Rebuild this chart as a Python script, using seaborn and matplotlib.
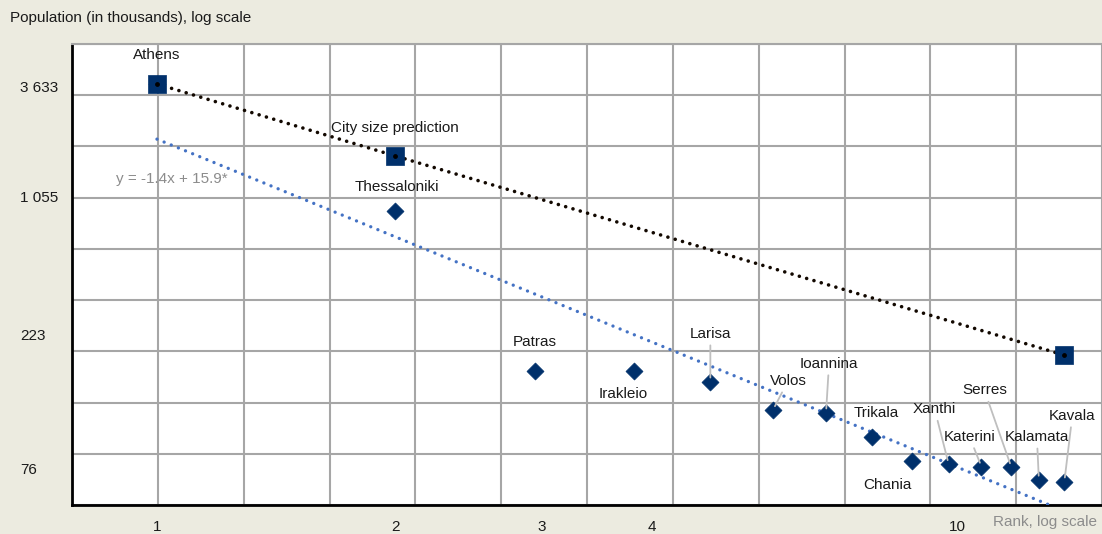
import numpy as np
import matplotlib
matplotlib.use('Agg')
import matplotlib.pyplot as plt
import seaborn as sns

# data (population in thousands)
cities = ['Athens', 'Thessaloniki', 'Patras', 'Irakleio', 'Larisa', 'Volos', 'Ioannina',
          'Trikala', 'Chania', 'Xanthi', 'Katerini', 'Serres', 'Kalamata', 'Kavala']
ranks = [1, 2, 3, 4, 5, 6, 7, 8, 9, 10, 11, 12, 13, 14]
population = [3633, 1055, 223, 221, 200, 152, 148, 116.5, 92.8, 89.6, 87.5, 87.0, 76.9, 75.6]

pred_ranks = [1, 2, 14]
pred_population = [3633, 1802, 259]

ytick_values = [3633, 1055, 223, 76]
ytick_labels = ['3 633', '1 055', '223', '76']
xtick_values = [1, 2, 3, 4, 10]
xtick_labels = ['1', '2', '3', '4', '10']

navy = '#00306b'
blue = '#4472c4'
grid_col = '#a6a6a6'
bg = '#ecebe0'
fs = 11

sns.set_style('white')
plt.rcParams['font.family'] = ['Liberation Sans', 'DejaVu Sans']
plt.rcParams['font.size'] = fs

fig = plt.figure(figsize=(11.02, 5.34), dpi=100, facecolor=bg)
ax = fig.add_axes([72 / 1102, 29 / 534, 1030 / 1102, 461 / 534])
ax.set_facecolor('white')
ax.set_xscale('log')
ax.set_yscale('log')
xlim = (0.781, 15.62)
ylim = (60.2, 5361)
ax.set_xlim(xlim)
ax.set_ylim(ylim)

# evenly spaced grid as in the original
ax.set_xticks(np.logspace(np.log10(xlim[0]), np.log10(xlim[1]), 13))
ax.set_yticks(np.logspace(np.log10(ylim[0]), np.log10(ylim[1]), 10))
ax.xaxis.set_minor_locator(matplotlib.ticker.NullLocator())
ax.yaxis.set_minor_locator(matplotlib.ticker.NullLocator())
ax.set_xticklabels([])
ax.set_yticklabels([])
ax.grid(True, which='major', color=grid_col, lw=1.5)
ax.tick_params(direction='in', length=3, width=1.5, color='black')
for side in ['left', 'bottom']:
    ax.spines[side].set_color('black')
    ax.spines[side].set_linewidth(2)
ax.spines['top'].set_color(grid_col)
ax.spines['top'].set_linewidth(1.5)
ax.spines['right'].set_visible(False)

# trend line fitted on the log values
slope, intercept = np.polyfit(np.log10(ranks), np.log10(population), 1)
fit_x = np.array([ranks[0], ranks[-1]], dtype=float)
fit_y = 10 ** (intercept + slope * np.log10(fit_x))
ax.plot(fit_x, fit_y, color=blue, lw=2.4, linestyle=(0, (0.01, 2.3)),
        dash_capstyle='round', zorder=3)

# rank-size prediction
ax.plot(pred_ranks, pred_population, color='#120800', lw=2.6, linestyle=(0, (0.01, 2.1)),
        dash_capstyle='round', zorder=4)

sns.scatterplot(x=ranks, y=population, marker='D', s=75, color=navy, edgecolor=navy,
                linewidth=0.5, ax=ax, zorder=5, legend=False)
sns.scatterplot(x=pred_ranks, y=pred_population, marker='s', s=150, color=navy,
                edgecolor=navy, linewidth=0.5, ax=ax, zorder=6, legend=False)
# dots of the prediction line on top of its squares
ax.scatter(pred_ranks, pred_population, s=6, color='black', zorder=7)

# city labels (offsets in pixels from each point), True = leader line
label_offsets = {
    'Athens': (0, 29, False), 'Thessaloniki': (2, 24, False), 'Patras': (0, 29, False),
    'Irakleio': (-10, -23, False), 'Larisa': (0, 48, True), 'Volos': (15, 29, True),
    'Ioannina': (3, 49, True), 'Trikala': (4, 24, False), 'Chania': (-25, -24, False),
    'Xanthi': (-14, 55, True), 'Katerini': (-12, 30, True), 'Serres': (-27, 77, True),
    'Kalamata': (-2, 43, True), 'Kavala': (8, 66, True),
}
for city, r, p in zip(cities, ranks, population):
    dx, dy, leader = label_offsets[city]
    arrow = dict(arrowstyle='-', color='#bfbfbf', lw=1.3, shrinkA=1, shrinkB=3) if leader else None
    ax.annotate(city, xy=(r, p), xytext=(dx, dy), textcoords='offset pixels',
                ha='center', va='center', fontsize=fs, color='#1a1a1a',
                arrowprops=arrow, zorder=8)

ax.annotate('City size prediction', xy=(pred_ranks[1], pred_population[1]), xytext=(0, 28),
            textcoords='offset pixels', ha='center', va='center', fontsize=fs, color='#1a1a1a')
ax.annotate('y = -1.4x + 15.9*', xy=(fit_x[0], fit_y[0]), xytext=(15, -40),
            textcoords='offset pixels', ha='center', va='center', fontsize=fs, color='#8c8c8c')

# axis value labels, placed like the original text boxes
ytick_shift = [-4, 13, 35, 11]
for v, lab, sh in zip(ytick_values, ytick_labels, ytick_shift):
    ax.annotate(lab, xy=(0, v), xycoords=('axes fraction', 'data'), xytext=(-52, sh),
                textcoords='offset pixels', ha='left', va='center', fontsize=fs, color='#1a1a1a',
                annotation_clip=False)
xtick_shift = [0, 0, 7, 18, 9]
for v, lab, sh in zip(xtick_values, xtick_labels, xtick_shift):
    ax.annotate(lab, xy=(v, 0), xycoords=('data', 'axes fraction'), xytext=(sh, -22),
                textcoords='offset pixels', ha='center', va='center', fontsize=fs, color='#1a1a1a',
                annotation_clip=False)

fig.text(10 / 1102, 1 - 18 / 534, 'Population (in thousands), log scale', ha='left', va='center',
         fontsize=fs, color='#1a1a1a')
fig.text(1097 / 1102, 1 - 522 / 534, 'Rank, log scale', ha='right', va='center',
         fontsize=fs, color='#8c8c8c')

fig.savefig('out.png', dpi=100, facecolor=bg)
